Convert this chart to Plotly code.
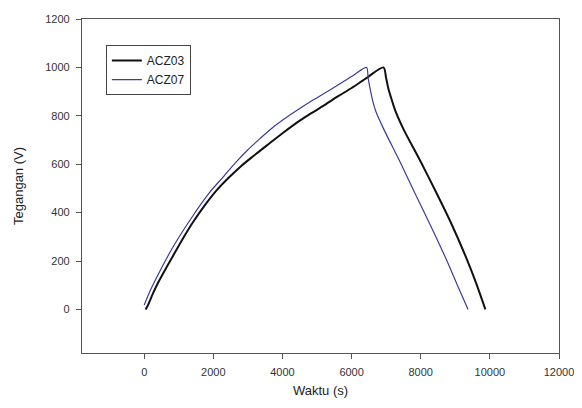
import plotly.graph_objects as go

# ACZ03 (black): charge then discharge
acz03_x = [40, 100, 250, 400, 650, 900, 1150, 1400, 1750, 2100, 2450, 2800, 3150, 3550,
           4000, 4500, 4850, 5200, 5600, 6000, 6450, 6920,
           7000, 7061, 7170, 7275, 7500, 8000, 8459, 8900, 9326, 9600, 9870]
acz03_y = [0, 15, 65, 110, 175, 238, 300, 358, 430, 493, 545, 592, 633, 678,
           728, 780, 812, 843, 880, 915, 958, 1000,
           955, 914, 862, 817, 745, 610, 480, 350, 210, 110, 0]

# ACZ07 (blue): charge then discharge
acz07_x = [0, 150, 300, 550, 800, 1100, 1400, 1650, 1900, 2300, 2650, 3000, 3350, 3700,
           4100, 4500, 4850, 5200, 5500, 5800, 6100, 6430,
           6480, 6532, 6610, 6705, 6930, 7400, 7832, 8290, 8748, 9060, 9370]
acz07_y = [18, 70, 115, 185, 250, 320, 385, 437, 485, 550, 608, 660, 706, 750,
           792, 830, 862, 892, 918, 945, 972, 1000,
           955, 914, 862, 817, 745, 610, 480, 345, 204, 100, 0]

x_ticks = [0, 2000, 4000, 6000, 8000, 10000, 12000]
x_tick_labels = ["0", "2000", "4000", "6000", "8000", "10000", "12000"]
y_ticks = [0, 200, 400, 600, 800, 1000, 1200]
y_tick_labels = ["0", "200", "400", "600", "800", "1000", "1200"]

fig = go.Figure()
fig.add_trace(go.Scatter(x=acz03_x, y=acz03_y, mode="lines", name="ACZ03",
                         line=dict(color="#111111", width=2, shape="spline", smoothing=0.8)))
fig.add_trace(go.Scatter(x=acz07_x, y=acz07_y, mode="lines", name="ACZ07",
                         line=dict(color="#3b3b9e", width=1.2, shape="spline", smoothing=0.8)))

axis_common = dict(showgrid=False, zeroline=False, showline=True, linecolor="#555555",
                   linewidth=1.3, mirror=True, ticks="outside", ticklen=5,
                   tickcolor="#555555", tickwidth=1.2, automargin=False,
                   ticklabelstandoff=4,
                   tickfont=dict(family="Liberation Sans, Arial", size=11, color="#333333"))

# the page body adds an 8px offset, so the figure is sized to 574x400
fig.update_layout(
    width=574, height=400,
    margin=dict(l=74, r=23, t=11, b=55),
    paper_bgcolor="white", plot_bgcolor="white",
    font=dict(family="Liberation Sans, Arial", color="#222222"),
    xaxis=dict(range=[-1800, 12000], tickvals=x_ticks, ticktext=x_tick_labels,
               title=dict(text="Waktu (s)", font=dict(size=13), standoff=8),
               **axis_common),
    yaxis=dict(range=[-180, 1200], tickvals=y_ticks, ticktext=y_tick_labels,
               title=dict(text="Tegangan (V)", font=dict(size=13), standoff=18),
               **axis_common),
    legend=dict(x=0.05, y=0.922, xanchor="left", yanchor="top",
                bgcolor="white", bordercolor="#444444", borderwidth=1,
                font=dict(family="Liberation Sans, Arial", size=12, color="#222222"),
                itemwidth=30, entrywidth=95, entrywidthmode="pixels"),
    showlegend=True,
)

fig.write_html("out.html")
